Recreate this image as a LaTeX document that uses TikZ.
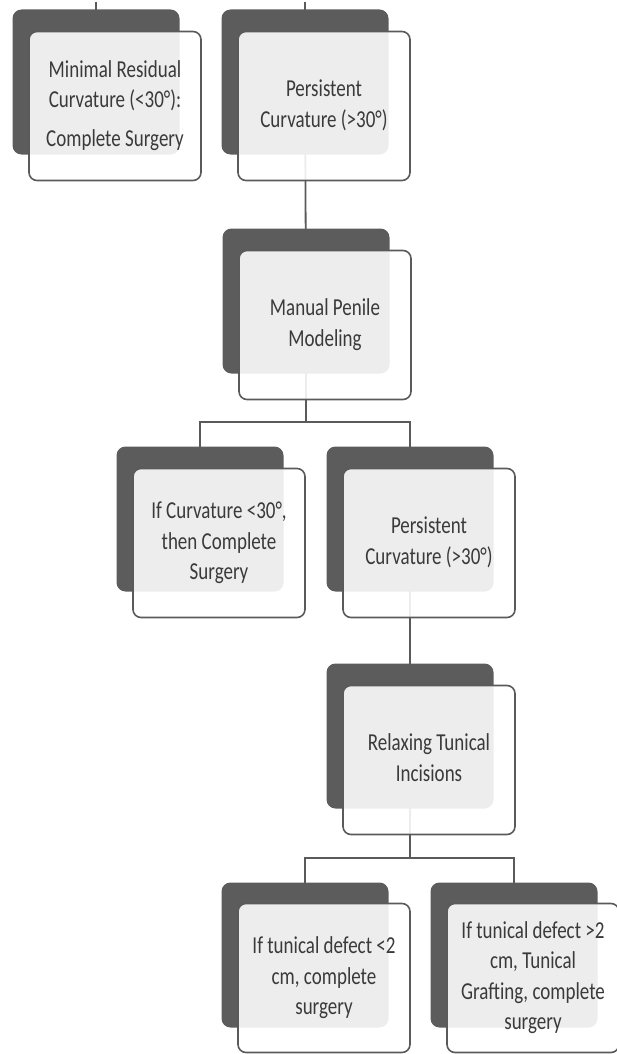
\documentclass[tikz,border=0pt]{standalone}
\usepackage{fontspec}
\usepackage{graphicx}
\setmainfont{Carlito}
\newcommand\boxlbl[1]{\scalebox{1}[1.28]{\begin{tabular}{@{}c@{}}#1\end{tabular}}}
\begin{document}
\begin{tikzpicture}[x=1pt,y=-1pt,
  darkbox/.style={fill=boxdark,draw=none,rounded corners=9pt,minimum width=167pt,minimum height=145pt,inner sep=0pt},
  lightbox/.style={fill=white,fill opacity=0.89,text opacity=1,draw=linegray,line width=1.6pt,rounded corners=8pt,
     minimum width=172pt,minimum height=149pt,inner sep=0pt,align=center,text=textgray,
     font=\fontsize{19}{23.5}\selectfont},
  conn/.style={draw=linegray,line width=1.8pt}]
\definecolor{boxdark}{HTML}{5C5C5C}
\definecolor{linegray}{HTML}{5A5A5A}
\definecolor{textgray}{HTML}{3A3A3A}
\useasboundingbox (0,0) rectangle (617,1054);

% coordinates
\coordinate (t1) at (96,2);
\coordinate (t2) at (305,2);
\coordinate (j1) at (305,422);
\coordinate (j2) at (410,858);

% dark box positions
\path (96,82) coordinate (p1) (305,82) coordinate (p2) (306,301) coordinate (p3)
      (200,519) coordinate (p4) (410,519) coordinate (p5) (410,736) coordinate (p6)
      (305,955) coordinate (p7) (514,955) coordinate (p8);

% connectors (behind)
\draw[conn] (t1) -- (p1);
\draw[conn] (t2) -- (p2);
\draw[conn] (p2) -- (p3);
\draw[conn] (p3) -- (p3 |- j1);
\draw[conn] (p4) |- (j1) -| (p5);
\draw[conn] (p5) -- (p6);
\draw[conn] (p6) -- (p6 |- j2);
\draw[conn] (p7) |- (j2) -| (p8);

\foreach \i in {1,...,8}{
  \node[darkbox] (d\i) at (p\i) {};
}

\node[lightbox] (l1) at ([shift={(19,24)}]d1.center) {\boxlbl{Minimal Residual\\Curvature (<30°):\\[7pt]Complete Surgery}};
\node[lightbox] (l2) at ([shift={(19,24)}]d2.center) {\boxlbl{Persistent\\Curvature (>30°)}};
\node[lightbox] (l3) at ([shift={(19,24)}]d3.center) {\boxlbl{Manual Penile\\Modeling}};
\node[lightbox] (l4) at ([shift={(19,24)}]d4.center) {\boxlbl{If Curvature <30°,\\then Complete\\Surgery}};
\node[lightbox] (l5) at ([shift={(19,24)}]d5.center) {\boxlbl{Persistent\\Curvature (>30°)}};
\node[lightbox] (l6) at ([shift={(19,24)}]d6.center) {\boxlbl{Relaxing Tunical\\Incisions}};
\node[lightbox] (l7) at ([shift={(19,23)}]d7.center) {\boxlbl{If tunical defect <2\\cm, complete\\surgery}};
\node[lightbox] (l8) at ([shift={(19,23)}]d8.center) {\boxlbl{If tunical defect >2\\cm, Tunical\\Grafting, complete\\surgery}};
\end{tikzpicture}
\end{document}
